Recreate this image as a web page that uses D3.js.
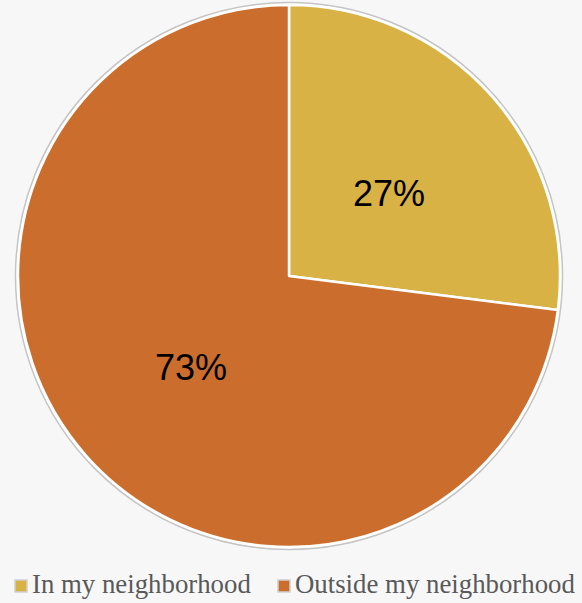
<!DOCTYPE html>
<html><head><meta charset="utf-8">
<script src="https://cdn.jsdelivr.net/npm/d3@7"></script>
<style>html,body{margin:0;padding:0;background:#f7f7f7;}svg{display:block;}</style>
</head><body>
<svg id="c" width="582" height="603"></svg>
<script>
const categories = ["In my neighborhood", "Outside my neighborhood"];
const values = [27, 73];
const labels = ["27%", "73%"];
const colors = ["#D9B246", "#CB6E2D"];

const svg = d3.select("#c");
const cx = 289, cy = 276, r = 271;
const g = svg.append("g").attr("transform", `translate(${cx},${cy})`);

g.append("circle").attr("r", r + 2.5).attr("fill", "#ffffff").attr("stroke", "#c4c4c4").attr("stroke-width", 1.5);

const pie = d3.pie().sort(null).value(d => d)(values);
const arc = d3.arc().innerRadius(0).outerRadius(r);
const labelArc = d3.arc().innerRadius(264).outerRadius(0);

g.selectAll("path.s").data(pie).join("path")
  .attr("class", "s")
  .attr("d", arc)
  .attr("fill", (d, i) => colors[i])
  .attr("stroke", "#ffffff").attr("stroke-width", 2.5).attr("stroke-linejoin", "round");

g.selectAll("text.l").data(pie).join("text")
  .attr("class", "l")
  .attr("transform", d => { const c = labelArc.centroid(d); return `translate(${c[0] + 1},${c[1] + 4})`; })
  .attr("text-anchor", "middle").attr("dy", "0.36em")
  .attr("font-family", "Liberation Sans, Arial, sans-serif").attr("font-size", 36)
  .attr("fill", "#000").text((d, i) => labels[i]);

const legendX = [15, 278];
const lg = svg.selectAll("g.lg").data(categories).join("g").attr("class", "lg")
  .attr("transform", (d, i) => `translate(${legendX[i]},580)`);
lg.append("rect").attr("x", 0).attr("y", 0).attr("width", 12).attr("height", 12)
  .attr("fill", (d, i) => colors[i]).attr("stroke", "#d0d0d0").attr("stroke-width", 1.5);
lg.append("text").attr("x", 17).attr("y", 13)
  .attr("font-family", "Liberation Serif, Times New Roman, serif").attr("font-size", 26.8)
  .attr("fill", "#595959").text(d => d);
</script>
</body></html>
